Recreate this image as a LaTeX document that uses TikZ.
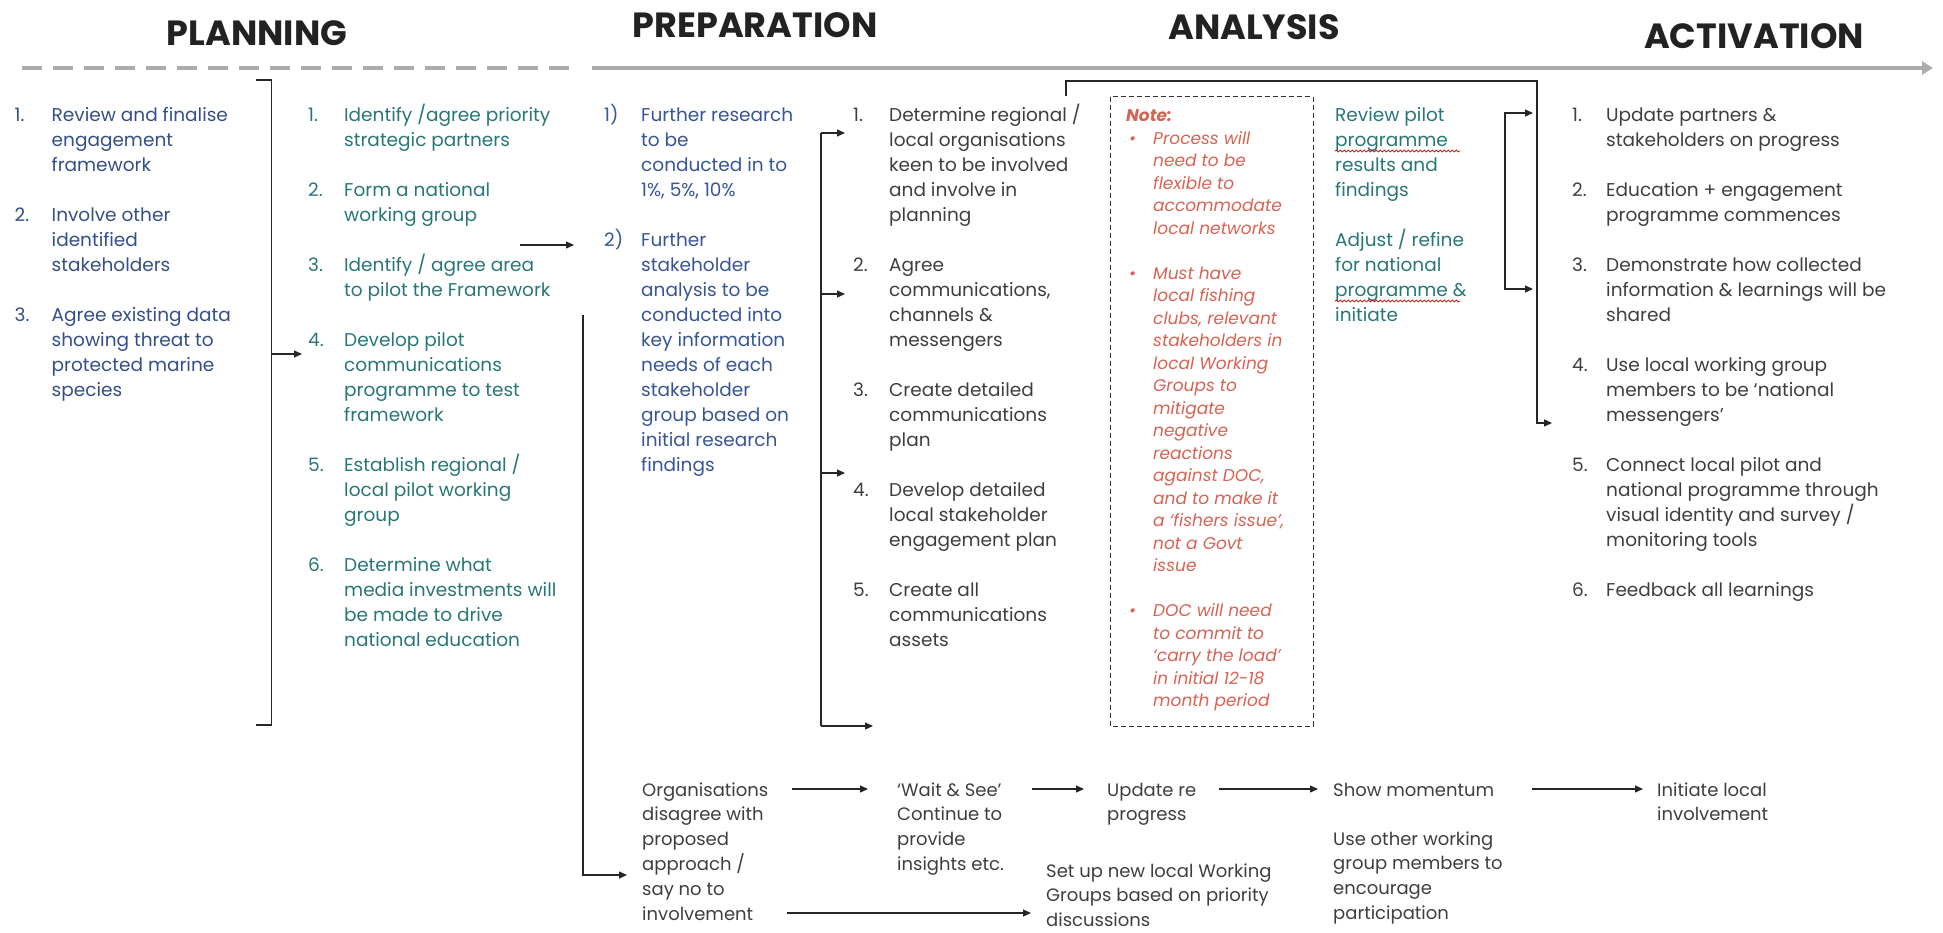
\documentclass[tikz,border=0pt]{standalone}
\usepackage{fontspec}
\setmainfont{Poppins}
\usetikzlibrary{arrows.meta,decorations.pathmorphing}

\definecolor{navytext}{RGB}{52,78,135}
\definecolor{tealtext}{RGB}{40,118,118}
\definecolor{bluetext}{RGB}{55,85,150}
\definecolor{greytext}{RGB}{62,62,62}
\definecolor{notetext}{RGB}{215,98,82}
\definecolor{headtext}{RGB}{34,34,34}
\definecolor{timeline}{RGB}{172,172,172}

% numbered list with hanging text, first row on the node baseline
\newcommand{\numlist}[2][37pt]{\begin{tabular}[t]{@{}p{#1}@{}l@{}}#2\end{tabular}}
\newcommand{\lines}[1]{\begin{tabular}[t]{@{}l@{}}#1\end{tabular}}

\tikzset{
  every node/.style={inner sep=0pt, anchor=base west},
  listtext/.style={font=\fontsize{18.5}{25}\selectfont},
  lowtext/.style={font=\fontsize{18}{24.8}\selectfont, text=greytext},
  notefont/.style={font=\fontsize{17}{22.5}\selectfont\itshape, text=notetext},
  heading/.style={font=\fontsize{35}{40}\selectfont\bfseries, text=headtext, anchor=base},
  link/.style={line width=1.2pt, draw=black!85},
  arr/.style={link, -{Triangle[length=8pt,width=7pt]}},
  notebox/.style={line width=1pt, draw=black!80, dash pattern=on 5pt off 3pt},
  squiggle/.style={draw=red!80!black, line width=0.7pt,
    decorate, decoration={snake, amplitude=1pt, segment length=4pt}}
}

\begin{document}
\begin{tikzpicture}[x=1pt,y=-1pt]
\useasboundingbox (0,0) rectangle (1943,933);

% phase headings and time line
\node[heading] (hplan) at (257,46) {PLANNING};
\node[heading] (hprep) at (755,38) {PREPARATION};
\node[heading] (hanal) at (1254,40) {ANALYSIS};
\node[heading] (hact) at (1754,49) {ACTIVATION};

\coordinate (tlA) at (22,68);
\coordinate (tlB) at (572,68);
\coordinate (tlC) at (592,68);
\coordinate (tlD) at (1933,68);
\draw[timeline, line width=4.5pt, dash pattern=on 20pt off 11pt] (tlA) -- (tlB);
\draw[timeline, line width=4.5pt, -{Triangle[length=11pt,width=13pt]}] (tlC) -- (tlD);

% planning
\node[listtext, text=navytext] (c1) at (14.5,122) {\numlist{%
1. & Review and finalise\\ & engagement\\ & framework\\ & \\
2. & Involve other\\ & identified\\ & stakeholders\\ & \\
3. & Agree existing data\\ & showing threat to\\ & protected marine\\ & species}};

\node[listtext, text=tealtext] (c2) at (308,122) {\numlist[36pt]{%
1. & Identify /agree priority\\ & strategic partners\\ & \\
2. & Form a national\\ & working group\\ & \\
3. & Identify / agree area\\ & to pilot the Framework\\ & \\
4. & Develop pilot\\ & communications\\ & programme to test\\ & framework\\ & \\
5. & Establish regional /\\ & local pilot working\\ & group\\ & \\
6. & Determine what\\ & media investments will\\ & be made to drive\\ & national education}};

% preparation
\node[listtext, text=bluetext] (c3) at (604,122) {\numlist{%
1) & Further research\\ & to be\\ & conducted in to\\ & 1\%, 5\%, 10\%\\ & \\
2) & Further\\ & stakeholder\\ & analysis to be\\ & conducted into\\ & key information\\
   & needs of each\\ & stakeholder\\ & group based on\\ & initial research\\ & findings}};

\node[listtext, text=greytext] (c4) at (853,122) {\numlist[36pt]{%
1. & Determine regional /\\ & local organisations\\ & keen to be involved\\ & and involve in\\ & planning\\ & \\
2. & Agree\\ & communications,\\ & channels \&\\ & messengers\\ & \\
3. & Create detailed\\ & communications\\ & plan\\ & \\
4. & Develop detailed\\ & local stakeholder\\ & engagement plan\\ & \\
5. & Create all\\ & communications\\ & assets}};

% analysis
\draw[notebox] (1110,97) rectangle (1313,726);
\node[notefont] (note) at (1126,122) {\numlist[27pt]{%
\multicolumn{2}{@{}l@{}}{\bfseries Note:}\\
\hspace{3pt}\textbullet & Process will\\ & need to be\\ & flexible to\\ & accommodate\\ & local networks\\ & \\
\hspace{3pt}\textbullet & Must have\\ & local fishing\\ & clubs, relevant\\ & stakeholders in\\ & local Working\\
  & Groups to\\ & mitigate\\ & negative\\ & reactions\\ & against DOC,\\ & and to make it\\
  & a ‘fishers issue’,\\ & not a Govt\\ & issue\\ & \\
\hspace{3pt}\textbullet & DOC will need\\ & to commit to\\ & ‘carry the load’\\ & in initial 12-18\\ & month period}};

\node[listtext, text=tealtext] (rev) at (1335,122) {\lines{%
Review pilot\\ programme\\ results and\\ findings\\ \\
Adjust / refine\\ for national\\ programme \&\\ initiate}};
\draw[squiggle] (1335,151) -- (1460,151);
\draw[squiggle] (1335,301) -- (1460,301);

% activation
\node[listtext, text=greytext] (act) at (1572,122) {\numlist[34pt]{%
1. & Update partners \&\\ & stakeholders on progress\\ & \\
2. & Education + engagement\\ & programme commences\\ & \\
3. & Demonstrate how collected\\ & information \& learnings will be\\ & shared\\ & \\
4. & Use local working group\\ & members to be ‘national\\ & messengers’\\ & \\
5. & Connect local pilot and\\ & national programme through\\ & visual identity and survey /\\ & monitoring tools\\ & \\
6. & Feedback all learnings}};

% bottom row
\node[lowtext] (org) at (642,796) {\lines{Organisations\\ disagree with\\ proposed\\ approach /\\ say no to\\ involvement}};
\node[lowtext] (wait) at (897,796) {\lines{‘Wait \& See’\\ Continue to\\ provide\\ insights etc.}};
\node[lowtext] (upd) at (1107,796) {\lines{Update re\\ progress}};
\node[lowtext] (show) at (1333,796) {\lines{Show momentum}};
\node[lowtext] (useo) at (1333,845) {\lines{Use other working\\ group members to\\ encourage\\ participation}};
\node[lowtext] (init) at (1657,796) {\lines{Initiate local\\ involvement}};
\node[lowtext] (setup) at (1046,877) {\lines{Set up new local Working\\ Groups based on priority\\ discussions}};

% connectors
\coordinate (plTop) at (271.5,80);
\coordinate (plBot) at (271.5,725);
\coordinate (plOut) at (271.5,354);
\coordinate (c2in) at (302,354);
\draw[link] ([xshift=-16pt]plTop) -- (plTop) -- (plBot) -- ([xshift=-16pt]plBot);
\draw[arr] (plOut) -- (c2in);

\coordinate (c2out) at (520,245);
\coordinate (c3in) at (574,245);
\draw[arr] (c2out) -- (c3in);

\coordinate (dropTop) at (583,315);
\coordinate (dropBot) at (583,875);
\coordinate (orgIn) at (627,875);
\draw[arr] (dropTop) -- (dropBot) -- (orgIn);

\coordinate (anTop) at (821,133);
\coordinate (anBot) at (821,726);
\coordinate (an1) at (845,133);
\coordinate (an2) at (845,294);
\coordinate (an3) at (845,473);
\coordinate (an4) at (873,726);
\draw[link] (anTop) -- (anBot);
\foreach \t in {an1,an2,an3,an4}
  \draw[arr] (\t -| anTop) -- (\t);

\coordinate (tpL) at (1066,96);
\coordinate (tpLc) at (1066,81);
\coordinate (tpRc) at (1537,81);
\coordinate (tpR) at (1537,423);
\coordinate (actIn) at (1552,423);
\draw[arr] (tpL) -- (tpLc) -- (tpRc) -- (tpR) -- (actIn);

\coordinate (revTop) at (1505,113);
\coordinate (revBot) at (1505,289);
\coordinate (revT) at (1533,113);
\coordinate (revB) at (1533,289);
\draw[link, {Triangle[length=8pt,width=7pt]}-{Triangle[length=8pt,width=7pt]}]
  (revT) -- (revTop) -- (revBot) -- (revB);

\coordinate (orgR) at (792,789);
\coordinate (waitL) at (868,789);
\coordinate (waitR) at (1032,789);
\coordinate (updL) at (1084,789);
\coordinate (updR) at (1219,789);
\coordinate (showL) at (1318,789);
\coordinate (showR) at (1532,789);
\coordinate (initL) at (1643,789);
\coordinate (orgB) at (787,913);
\coordinate (setupL) at (1031,913);
\draw[arr] (orgR) -- (waitL);
\draw[arr] (waitR) -- (updL);
\draw[arr] (updR) -- (showL);
\draw[arr] (showR) -- (initL);
\draw[arr] (orgB) -- (setupL);
\end{tikzpicture}
\end{document}
